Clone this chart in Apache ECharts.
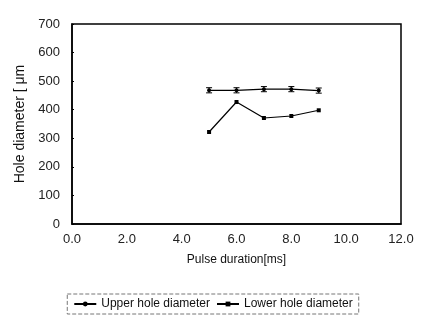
<!DOCTYPE html>
<html><head><meta charset="utf-8">
<script src="https://cdn.jsdelivr.net/npm/echarts@6/dist/echarts.min.js"></script>
<style>html,body{margin:0;padding:0;background:#fff}#c{width:426px;height:320px}</style>
</head><body><div id="c"></div>
<script>
const pulseDuration = [5, 6, 7, 8, 9];
const upperHole = [468, 468, 472, 472, 467];
const upperErr = [9, 9, 9, 9, 9];
const lowerHole = [322, 427, 371, 378, 398];
const xTicks = ['0.0','2.0','4.0','6.0','8.0','10.0','12.0'];

const chart = echarts.init(document.getElementById('c'));
const font = '"Liberation Sans", Arial, sans-serif';
const ebData = pulseDuration.map((x, i) => [x, upperHole[i] - upperErr[i], upperHole[i] + upperErr[i]]);
chart.setOption({
  animation: false,
  grid: { left: 72, right: 25, top: 24, bottom: 96, show: true, borderColor: '#000', borderWidth: 1.5, backgroundColor: 'transparent' },
  xAxis: {
    type: 'value', min: 0, max: 12, interval: 2,
    name: 'Pulse duration[ms]', nameLocation: 'middle', nameGap: 30,
    nameTextStyle: { fontFamily: font, fontSize: 12, color: '#111' },
    axisLine: { lineStyle: { color: '#000', width: 1.5 } },
    axisTick: { show: false },
    splitLine: { show: false },
    axisLabel: { fontFamily: font, fontSize: 13, color: '#222', margin: 9, formatter: v => v.toFixed(1) }
  },
  yAxis: {
    type: 'value', min: 0, max: 700, interval: 100,
    name: 'Hole diameter [ μm', nameLocation: 'middle', nameGap: 32,
    nameTextStyle: { fontFamily: font, fontSize: 14, color: '#111' },
    axisLine: { lineStyle: { color: '#000', width: 1.5 } },
    axisTick: { show: true, inside: true, length: 2, lineStyle: { color: '#000' } },
    splitLine: { show: false },
    axisLabel: { fontFamily: font, fontSize: 13, color: '#222', margin: 12 }
  },
  legend: {
    bottom: 6, left: 'center', itemGap: 6, itemWidth: 22, itemHeight: 6,
    borderColor: '#777', borderWidth: 1, borderType: 'dashed', padding: [4, 6],
    textStyle: { fontFamily: font, fontSize: 12, color: '#111' },
    data: ['Upper hole diameter', 'Lower hole diameter']
  },
  series: [
    { name: 'Upper hole diameter', type: 'line', data: pulseDuration.map((x, i) => [x, upperHole[i]]),
      color: '#000', symbol: 'circle', symbolSize: 4, lineStyle: { color: '#000', width: 1.2 }, itemStyle: { color: '#000' } },
    { name: 'Lower hole diameter', type: 'line', data: pulseDuration.map((x, i) => [x, lowerHole[i]]),
      color: '#000', symbol: 'rect', symbolSize: 4, lineStyle: { color: '#000', width: 1.2 }, itemStyle: { color: '#000' } },
    { type: 'custom', data: ebData, z: 5,
      renderItem: (params, api) => {
        const x = api.value(0);
        const lo = api.coord([x, api.value(1)]);
        const hi = api.coord([x, api.value(2)]);
        const w = 3;
        const st = { stroke: '#000', lineWidth: 1 };
        return { type: 'group', children: [
          { type: 'line', shape: { x1: lo[0], y1: lo[1], x2: hi[0], y2: hi[1] }, style: st },
          { type: 'line', shape: { x1: lo[0]-w, y1: lo[1], x2: lo[0]+w, y2: lo[1] }, style: st },
          { type: 'line', shape: { x1: hi[0]-w, y1: hi[1], x2: hi[0]+w, y2: hi[1] }, style: st }
        ]};
      }
    }
  ]
});
</script></body></html>
